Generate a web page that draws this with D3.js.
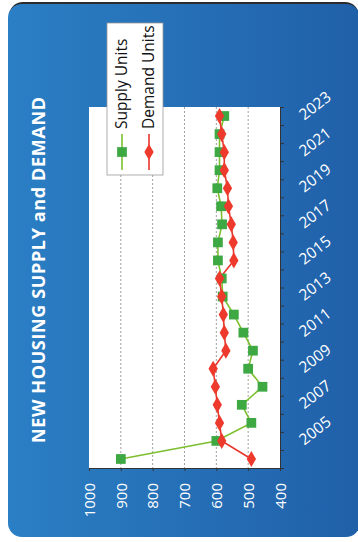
<!DOCTYPE html>
<html>
<head>
<meta charset="utf-8">
<script src="https://cdn.jsdelivr.net/npm/d3@7"></script>
<style>
  body { margin: 0; background: #fff; }
  svg { display: block; }
  .axis path, .axis line { stroke: #333; }
  .axis text { fill: #fff; font-family: "Open Sans", sans-serif; }
</style>
</head>
<body>
<div id="chart"></div>
<script>
// data (years run bottom -> top, values left 1000 -> right 400)
const years = d3.range(2004, 2024);
const supply = [900, 600, 490, 520, 455, 500, 485, 515, 545, 580, 583, 595, 595, 582, 585, 597, 590, 590, 590, 575];
const demand = [490, 583, 590, 597, 603, 610, 570, 575, 578, 583, 590, 545, 547, 553, 562, 565, 575, 575, 583, 590];
const valueTicks = [1000, 900, 800, 700, 600, 500, 400];
const yearLabels = years.filter(d => d % 2 === 1);

const width = 358;
const height = 542;

const svg = d3.select("#chart")
  .append("svg")
  .attr("width", width)
  .attr("height", height);

const defs = svg.append("defs");
const grad = defs.append("linearGradient")
  .attr("id", "card")
  .attr("x1", "0").attr("x2", "1").attr("y1", "0").attr("y2", "0");
grad.append("stop").attr("offset", "0%").attr("stop-color", "#2b7fc4");
grad.append("stop").attr("offset", "100%").attr("stop-color", "#2060a9");

// card background
svg.append("rect")
  .attr("x", 9).attr("y", 2)
  .attr("width", 350).attr("height", 534)
  .attr("rx", 14)
  .attr("fill", "#2b2b2b");
svg.append("rect")
  .attr("x", 8).attr("y", 4)
  .attr("width", 352).attr("height", 533)
  .attr("rx", 14)
  .attr("fill", "url(#card)");

// scales
const x = d3.scaleLinear().domain([1000, 400]).range([89, 280]);
const y = d3.scaleLinear().domain([2003.5, 2023.5]).range([468, 107]);

// plot area
svg.append("rect")
  .attr("x", x(1000)).attr("y", y(2023.5))
  .attr("width", x(400) - x(1000))
  .attr("height", y(2003.5) - y(2023.5))
  .attr("fill", "#fff");

// gridlines
svg.append("g")
  .selectAll("line")
  .data(valueTicks.filter(d => d !== 1000 && d !== 400))
  .join("line")
  .attr("x1", d => x(d)).attr("x2", d => x(d))
  .attr("y1", y(2023.5)).attr("y2", y(2003.5))
  .attr("stroke", "#a0a0a0")
  .attr("stroke-width", 1)
  .attr("stroke-dasharray", "2,2");

// value axis (bottom)
const xAxis = svg.append("g")
  .attr("class", "axis")
  .attr("transform", `translate(0,${y(2003.5)})`)
  .call(d3.axisBottom(x).tickValues(valueTicks).tickSize(3).tickFormat(d3.format("d")));
xAxis.select(".domain").attr("stroke", "#444");
xAxis.selectAll("text")
  .attr("y", null).attr("dy", "0.35em")
  .attr("text-anchor", "end")
  .attr("transform", "translate(0,15) rotate(-90)")
  .style("font-size", "15px");

// year axis (right) - ticks at band boundaries
const boundaries = d3.range(2003.5, 2024, 1);
const yAxis = svg.append("g")
  .attr("class", "axis")
  .attr("transform", `translate(${x(400)},0)`)
  .call(d3.axisRight(y).tickValues(boundaries).tickSize(4).tickFormat(""));
yAxis.select(".domain").attr("stroke", "#333");

const yLabels = svg.append("g")
  .attr("class", "axis")
  .attr("transform", `translate(${x(400)},0)`)
  .call(d3.axisRight(y).tickValues(yearLabels).tickSize(0).tickFormat(d3.format("d")));
yLabels.select(".domain").remove();
yLabels.selectAll("text")
  .attr("x", null).attr("dy", "0.35em")
  .attr("text-anchor", "start")
  .attr("transform", "translate(21,0) rotate(-38)")
  .style("font-size", "15.5px");

// lines
const line = d3.line()
  .x(d => x(d[1]))
  .y(d => y(d[0]));

const supplyPts = years.map((yr, i) => [yr, supply[i]]);
const demandPts = years.map((yr, i) => [yr, demand[i]]);

svg.append("path")
  .datum(supplyPts)
  .attr("d", line)
  .attr("fill", "none")
  .attr("stroke", "#7dbf2e")
  .attr("stroke-width", 1.6);

svg.append("path")
  .datum(demandPts)
  .attr("d", line)
  .attr("fill", "none")
  .attr("stroke", "#e8362c")
  .attr("stroke-width", 1.6);

const sq = d3.symbol().type(d3.symbolSquare).size(95);
const dia = d3.symbol().type(d3.symbolDiamond).size(75);

svg.append("g")
  .selectAll("path")
  .data(supplyPts)
  .join("path")
  .attr("d", sq)
  .attr("transform", d => `translate(${x(d[1])},${y(d[0])})`)
  .attr("fill", "#3ea843");

svg.append("g")
  .selectAll("path")
  .data(demandPts)
  .join("path")
  .attr("d", dia)
  .attr("transform", d => `translate(${x(d[1])},${y(d[0])})`)
  .attr("fill", "#ee3a2c");

// legend
const legend = svg.append("g");
legend.append("rect")
  .attr("x", 107).attr("y", 23)
  .attr("width", 56).attr("height", 152)
  .attr("fill", "#fff")
  .attr("stroke", "#9a9a9a")
  .attr("stroke-width", 0.8);

const legendItems = [
  { name: "Supply Units", color: "#7dbf2e", fill: "#3ea843", shape: sq, cx: 122 },
  { name: "Demand Units", color: "#e8362c", fill: "#ee3a2c", shape: dia, cx: 149 }
];

legendItems.forEach(it => {
  legend.append("line")
    .attr("x1", it.cx).attr("x2", it.cx)
    .attr("y1", 134).attr("y2", 170)
    .attr("stroke", it.color)
    .attr("stroke-width", 1.6);
  legend.append("path")
    .attr("d", it.shape)
    .attr("transform", `translate(${it.cx},152)`)
    .attr("fill", it.fill);
  legend.append("text")
    .attr("transform", `translate(${it.cx},129) rotate(-90)`)
    .attr("dy", "0.35em")
    .attr("text-anchor", "start")
    .style("font-family", "Open Sans, sans-serif")
    .style("font-size", "15.5px")
    .attr("fill", "#111")
    .text(it.name);
});

// title
svg.append("text")
  .attr("transform", "translate(39,443) rotate(-90)")
  .attr("dy", "0.35em")
  .attr("text-anchor", "start")
  .attr("textLength", 346)
  .attr("lengthAdjust", "spacing")
  .style("font-family", "Open Sans, sans-serif")
  .style("font-weight", "bold")
  .style("font-size", "18px")
  .attr("fill", "#fff")
  .text("NEW HOUSING SUPPLY and DEMAND");
</script>
</body>
</html>
